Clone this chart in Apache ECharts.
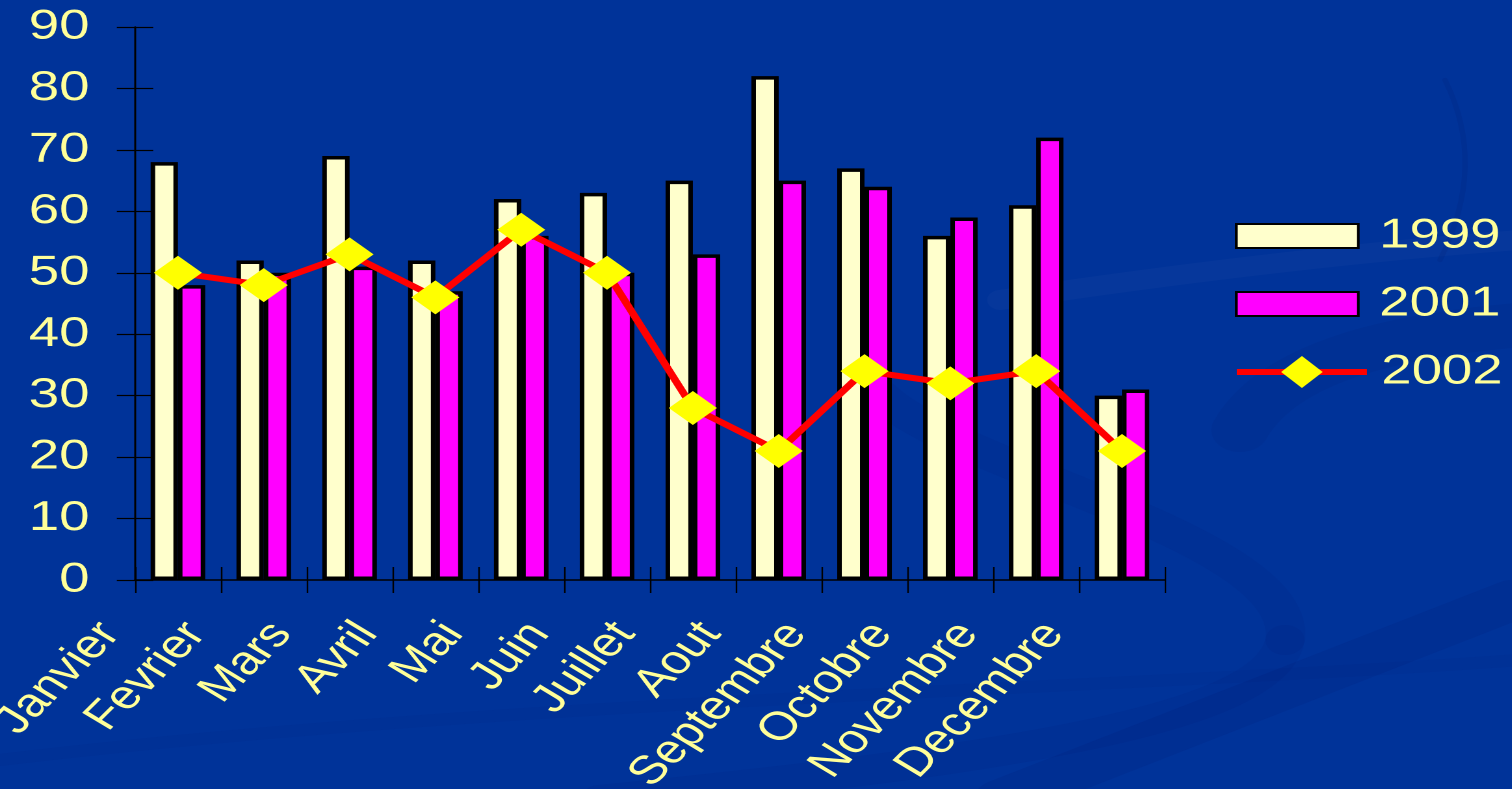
<!DOCTYPE html>
<html>
<head>
<meta charset="utf-8">
<script src="https://cdn.jsdelivr.net/npm/echarts@6/dist/echarts.min.js"></script>
<style>
  html, body { margin: 0; padding: 0; background: #003399; overflow: hidden; }
  #wrap { width: 1512px; height: 789px; overflow: hidden; position: relative; }
  #c { width: 1163px; height: 789px; transform: scaleX(1.3); transform-origin: 0 0; position: absolute; left: 0; top: 0; }
</style>
</head>
<body>
<div id="wrap"><div id="c"></div></div>
<script>
// ---- data ----
const months = ['Janvier', 'Fevrier', 'Mars', 'Avril', 'Mai', 'Juin', 'Juillet', 'Aout', 'Septembre', 'Octobre', 'Novembre', 'Decembre'];
const seriesNames = ['1999', '2001', '2002'];
const values1999 = [68, 52, 69, 52, 62, 63, 65, 82, 67, 56, 61, 30];
const values2001 = [48, 50, 51, 47, 56, 50, 53, 65, 64, 59, 72, 31];
const values2002 = [50, 48, 53, 46, 57, 50, 28, 21, 34, 32, 34, 21];
const yTicks = [0, 10, 20, 30, 40, 50, 60, 70, 80, 90];

// ---- presentation ----
const S = 1.3; // horizontal stretch of the slide
const X = v => v / S;
const LABEL = '#FFFF99';
const FONT = '"Liberation Sans", Arial, sans-serif';

// subtle background swooshes (decoration only): [x1,y1,cx1,cy1,cx2,cy2,x2,y2, width, colour]
const swooshes = [
  [1000, 800, 1170, 733, 1340, 666, 1512, 600, 40, 'rgba(0,25,110,0.13)'],
  [880, 395, 960, 470, 1300, 540, 1285, 640, 30, 'rgba(0,25,110,0.09)'],
  [1285, 640, 1270, 720, 1000, 760, 600, 800, 30, 'rgba(0,25,110,0.09)'],
  [1240, 430, 1280, 360, 1400, 335, 1520, 325, 44, 'rgba(0,25,110,0.10)'],
  [1000, 300, 1200, 270, 1380, 250, 1520, 240, 20, 'rgba(255,255,255,0.025)'],
  [1445, 80, 1475, 140, 1470, 200, 1440, 260, 4, 'rgba(0,25,110,0.15)'],
  [0, 760, 500, 700, 1100, 690, 1520, 660, 12, 'rgba(0,25,110,0.07)']
];

const chart = echarts.init(document.getElementById('c'), null, { devicePixelRatio: 2 });

const gridLeft = X(135);
const gridRight = 1512 / S - X(1165);

const legendText = { color: LABEL, fontSize: 42, fontFamily: FONT, lineHeight: 42, padding: [0, 0, 0, 11] };

const option = {
  backgroundColor: '#003399',
  animation: false,
  graphic: swooshes.map(s => ({
    type: 'bezierCurve', silent: true, z: -10,
    shape: { x1: X(s[0]), y1: s[1], cpx1: X(s[2]), cpy1: s[3], cpx2: X(s[4]), cpy2: s[5], x2: X(s[6]), y2: s[7] },
    style: { fill: null, stroke: s[9], lineWidth: s[8], lineCap: 'round' }
  })),
  grid: { left: gridLeft, right: gridRight, top: 27, bottom: 209, containLabel: false, outerBoundsMode: 'none' },
  legend: [
    {
      orient: 'vertical', left: X(1235), top: 215, padding: 0,
      itemWidth: X(122), itemHeight: 24, itemGap: 26,
      data: [{ name: seriesNames[0], icon: 'rect' }, { name: seriesNames[1], icon: 'rect' }],
      textStyle: legendText
    },
    {
      orient: 'vertical', left: X(1233), top: 351, padding: 0,
      itemWidth: X(130), itemHeight: 40,
      data: [seriesNames[2]],
      lineStyle: { width: 6, color: '#FF0000' },
      textStyle: Object.assign({}, legendText, { padding: [0, 0, 0, 6] })
    }
  ],
  xAxis: [
    {
      type: 'category',
      data: months,
      boundaryGap: true,
      axisLine: { lineStyle: { color: '#000', width: 1.5 } },
      axisTick: { show: true, interval: 0, inside: false, length: 13, lineStyle: { color: '#000', width: 1.2 } },
      axisLabel: { show: false },
      splitLine: { show: false }
    },
    {
      type: 'category',
      position: 'bottom',
      data: months.concat(['']),
      boundaryGap: false,
      axisLine: { show: false },
      axisTick: { show: true, interval: 0, inside: true, length: 13, lineStyle: { color: '#000', width: 1.2 } },
      axisLabel: {
        show: true, interval: 0, rotate: 52, margin: 23,
        color: LABEL, fontSize: 40, fontFamily: FONT,
        padding: [0, 31, 0, 0]
      },
      splitLine: { show: false }
    }
  ],
  yAxis: [
    {
      type: 'value', position: 'left', min: yTicks[0], max: yTicks[yTicks.length - 1], interval: 10,
      axisLine: { show: true, lineStyle: { color: '#000', width: 1.5 } },
      axisTick: { show: true, inside: false, length: 14, lineStyle: { color: '#000', width: 1.2 } },
      axisLabel: { color: LABEL, fontSize: 42, fontFamily: FONT, margin: 35 },
      splitLine: { show: false }
    },
    {
      type: 'value', position: 'left', min: yTicks[0], max: yTicks[yTicks.length - 1], interval: 10,
      axisLine: { show: false },
      axisTick: { show: true, inside: true, length: 14, lineStyle: { color: '#000', width: 1.2 } },
      axisLabel: { show: false },
      splitLine: { show: false }
    }
  ],
  series: [
    {
      name: seriesNames[0], type: 'bar', data: values1999,
      barWidth: 21, barGap: '0%',
      itemStyle: { color: '#FFFFCC', borderColor: '#000', borderWidth: 3.5 }
    },
    {
      name: seriesNames[1], type: 'bar', data: values2001,
      barWidth: 21, barGap: '0%',
      itemStyle: { color: '#FF00FF', borderColor: '#000', borderWidth: 3.5 }
    },
    {
      name: seriesNames[2], type: 'line', data: values2002, z: 5,
      symbol: 'diamond', symbolSize: [37, 34],
      lineStyle: { color: '#FF0000', width: 6 },
      itemStyle: { color: '#FFFF00', borderWidth: 0 }
    }
  ]
};
chart.setOption(option);
</script>
</body>
</html>
